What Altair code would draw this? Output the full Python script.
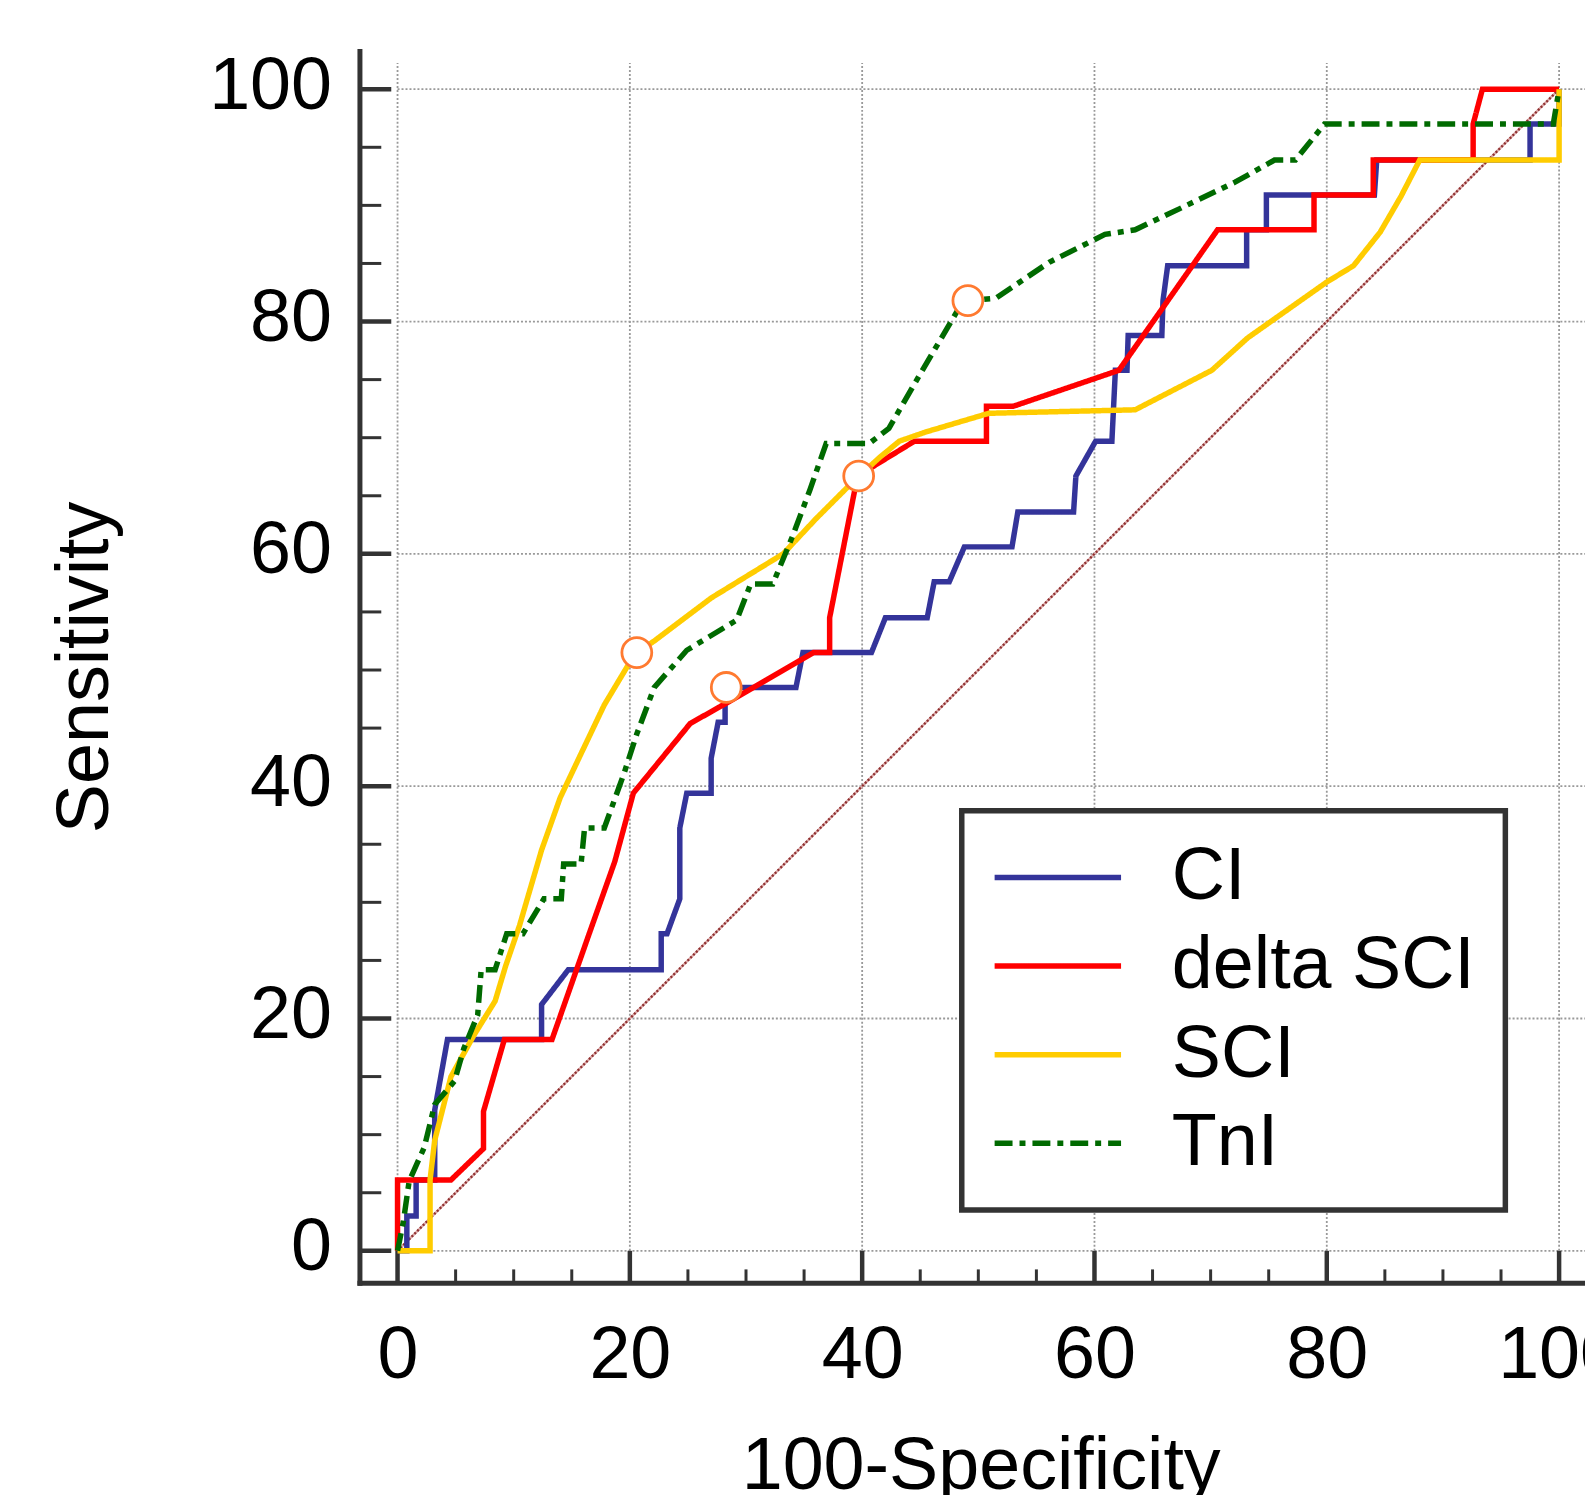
import altair as alt
import pandas as pd

FONT = "Liberation Sans"

# ---------------- data ----------------
series_names = ["CI", "delta SCI", "SCI", "TnI"]
series_colors = ["#34349a", "#ff0000", "#ffcc00", "#006a00"]
series_dashes = [[1, 0], [1, 0], [1, 0], [18, 7, 6, 7]]

ci_x = [0, 0.8, 0.8, 1.6, 1.6, 3.2, 3.2, 4.3, 12.4, 12.4, 14.7, 22.7, 22.7, 23.2, 24.3, 24.3,
        24.9, 27.0, 27.0, 27.6, 28.2, 28.2, 34.3, 34.9, 40.8, 42.0, 45.6, 46.2, 47.5, 48.8, 52.9, 53.4,
        58.2, 58.4, 60.1, 61.5, 61.8, 62.8, 62.9, 65.8, 65.9, 66.3, 73.1, 73.1, 74.8, 74.8, 84.1, 84.3,
        97.5, 97.5, 100, 100]
ci_y = [0, 0, 3.0, 3.0, 6.1, 6.1, 12.1, 18.2, 18.2, 21.2, 24.2, 24.2, 27.3, 27.3, 30.3, 36.4,
        39.4, 39.4, 42.4, 45.5, 45.5, 48.5, 48.5, 51.5, 51.5, 54.5, 54.5, 57.6, 57.6, 60.6, 60.6, 63.6,
        63.6, 66.7, 69.7, 69.7, 75.8, 75.8, 78.8, 78.8, 81.8, 84.8, 84.8, 87.9, 87.9, 90.9, 90.9, 93.9,
        93.9, 97.0, 97.0, 100]

dsci_x = [0, 0, 4.6, 7.4, 7.4, 9.2, 13.3, 16.5, 18.7, 20.3, 25.2, 28.4, 35.8, 37.2, 37.2, 39.6,
          44.5, 50.7, 50.7, 53.0, 62.1, 70.6, 78.9, 78.9, 84.0, 84.0, 92.6, 92.6, 93.4, 100]
dsci_y = [0, 6.1, 6.1, 8.8, 12.0, 18.2, 18.2, 27.3, 33.5, 39.4, 45.4, 47.2, 51.5, 51.5, 54.5, 66.7,
          69.7, 69.7, 72.7, 72.7, 75.8, 87.9, 87.9, 90.9, 90.9, 93.9, 93.9, 97.0, 100, 100]

sci_x = [0, 2.8, 2.8, 3.2, 4.6, 6.6, 8.4, 9.3, 10.5, 12.4, 14.0, 15.8, 17.8, 19.9, 20.6, 22.1,
         27.0, 33.2, 36.0, 39.2, 41.5, 43.2, 45.5, 50.9, 63.5, 70.1, 73.2, 76.6, 80.0, 82.3, 84.6, 86.4,
         88.0, 100, 100]
sci_y = [0, 0, 6.1, 9.5, 15.0, 18.6, 21.5, 24.5, 28.0, 34.5, 39.0, 42.8, 47.0, 50.5, 51.5, 52.5,
         56.2, 60.0, 63.0, 66.2, 68.3, 69.7, 70.5, 72.1, 72.4, 75.8, 78.6, 81.0, 83.4, 84.8, 87.7, 90.8,
         93.9, 93.9, 100]

tni_x = [0, 0.5, 1.0, 2.3, 3.2, 4.9, 5.7, 6.9, 7.2, 8.4, 9.4, 10.8, 12.6, 14.1, 14.3, 15.8,
         16.1, 17.8, 19.5, 20.6, 22.1, 24.9, 29.2, 30.4, 32.3, 34.0, 35.5, 36.9, 40.6, 42.3, 44.6, 48.3,
         49.1, 51.5, 56.1, 60.9, 63.5, 67.3, 72.1, 75.5, 77.3, 79.8, 99.5, 100]
tni_y = [0, 2.5, 6.0, 8.9, 12.6, 14.6, 17.4, 20.3, 24.2, 24.2, 27.3, 27.3, 30.3, 30.3, 33.3, 33.3,
         36.4, 36.4, 41.1, 44.5, 48.5, 51.7, 54.3, 57.4, 57.4, 61.5, 65.5, 69.5, 69.5, 70.8, 74.8, 81.1,
         81.8, 82.0, 85.1, 87.5, 87.9, 89.7, 92.0, 93.9, 93.9, 97.0, 97.0, 100]

opt_x = [28.3, 39.7, 20.6, 49.1]
opt_y = [48.5, 66.7, 51.5, 81.8]

ref_x = [0, 100]
ref_y = [0, 100]

major_ticks = [0, 20, 40, 60, 80, 100]
minor_ticks = [5, 10, 15, 25, 30, 35, 45, 50, 55, 65, 70, 75, 85, 90, 95]

# ---------------- geometry / style ----------------
W, H = 1231, 1237
XMIN, XMAX = -3.28, 102.23
YMIN, YMAX = -2.74, 103.28
GRID_TOP = 102.25
LW = 5.5

rows = []
for name, xs_, ys_ in zip(series_names, [ci_x, dsci_x, sci_x, tni_x], [ci_y, dsci_y, sci_y, tni_y]):
    for i, (a, b) in enumerate(zip(xs_, ys_)):
        rows.append({"series": name, "fpr": a, "tpr": b, "idx": i})
curves = pd.DataFrame(rows)

opt_df = pd.DataFrame({"series": series_names, "fpr": opt_x, "tpr": opt_y})
ref_df = pd.DataFrame({"fpr": ref_x, "tpr": ref_y})

xs = alt.Scale(domain=[XMIN, XMAX], nice=False, zero=False)
ys = alt.Scale(domain=[YMIN, YMAX], nice=False, zero=False)

AX = "#333333"

x_axis = alt.Axis(values=major_ticks, title="100-Specificity", grid=False, ticks=False, tickSize=0,
                  domainColor=AX, domainWidth=5, domainCap="square",
                  labelFont=FONT, labelFontSize=74, labelColor="black", labelPadding=37,
                  labelOverlap=False, labelFlush=False,
                  titleFont=FONT, titleFontSize=74, titleFontWeight="normal", titleColor="black",
                  titleX=624, titleY=207, titleBaseline="alphabetic", titleAlign="center")
y_axis = alt.Axis(values=major_ticks, title="Sensitivity", grid=False, ticks=False, tickSize=0,
                  domainColor=AX, domainWidth=5, domainCap="square",
                  labelFont=FONT, labelFontSize=74, labelColor="black", labelPadding=28,
                  labelOffset=-3, labelOverlap=False, labelFlush=False,
                  titleFont=FONT, titleFontSize=74, titleFontWeight="normal", titleColor="black",
                  titleX=-253, titleY=H / 2, titleBaseline="alphabetic", titleAlign="center")


def X(field):
    return alt.X(field, scale=xs, axis=x_axis)


def Y(field):
    return alt.Y(field, scale=ys, axis=y_axis)


# gridlines
GRID = dict(color="#999999", strokeWidth=1.8, strokeDash=[2, 2])
grid_v = alt.Chart(pd.DataFrame({"v": major_ticks, "lo": 0, "hi": GRID_TOP})).mark_rule(**GRID).encode(
    x=X("v:Q"), y=Y("lo:Q"), y2="hi:Q")
grid_h = alt.Chart(pd.DataFrame({"v": major_ticks, "lo": 0, "hi": XMAX})).mark_rule(**GRID).encode(
    y=Y("v:Q"), x=X("lo:Q"), x2="hi:Q")

# inward ticks
xt_major = alt.Chart(pd.DataFrame({"v": major_ticks, "lo": YMIN, "hi": 0})).mark_rule(
    color=AX, strokeWidth=4.5).encode(x=X("v:Q"), y=Y("lo:Q"), y2="hi:Q")
xt_minor = alt.Chart(pd.DataFrame({"v": minor_ticks, "lo": YMIN, "hi": -1.6})).mark_rule(
    color=AX, strokeWidth=3).encode(x=X("v:Q"), y=Y("lo:Q"), y2="hi:Q")
yt_major = alt.Chart(pd.DataFrame({"v": major_ticks, "lo": XMIN, "hi": -0.54})).mark_rule(
    color=AX, strokeWidth=4.5).encode(y=Y("v:Q"), x=X("lo:Q"), x2="hi:Q")
yt_minor = alt.Chart(pd.DataFrame({"v": minor_ticks, "lo": XMIN, "hi": -1.4})).mark_rule(
    color=AX, strokeWidth=3).encode(y=Y("v:Q"), x=X("lo:Q"), x2="hi:Q")

# diagonal reference (pink underlay + dark red dots)
diag_under = alt.Chart(ref_df).mark_line(color="#dcaaaa", strokeWidth=2.4).encode(
    x=X("fpr:Q"), y=Y("tpr:Q"))
diag = alt.Chart(ref_df).mark_line(color="#8e3030", strokeWidth=2.4, strokeDash=[2, 2]).encode(
    x=X("fpr:Q"), y=Y("tpr:Q"))

color_scale = alt.Scale(domain=series_names, range=series_colors)
dash_scale = alt.Scale(domain=series_names, range=series_dashes)


def make_legend():
    return alt.Legend(title=None, orient="none", legendX=605, legendY=763,
                      symbolType="stroke", symbolSize=16129, symbolStrokeWidth=LW,
                      labelFont=FONT, labelFontSize=74, labelColor="black", labelOffset=48,
                      labelLimit=0, rowPadding=15, padding=30, clipHeight=74,
                      strokeColor=AX, fillColor="white")


def series_layer(name):
    return alt.Chart(curves).transform_filter(alt.datum.series == name).mark_line(strokeWidth=LW).encode(
        x=X("fpr:Q"),
        y=Y("tpr:Q"),
        order="idx:Q",
        color=alt.Color("series:N", scale=color_scale, legend=make_legend()),
        strokeDash=alt.StrokeDash("series:N", scale=dash_scale, legend=make_legend()),
    )


lines = [series_layer(n) for n in series_names]

points = alt.Chart(opt_df).mark_point(shape="circle", filled=True, fill="white", stroke="#ff7a30",
                                      strokeWidth=2.8, size=900, opacity=1).encode(
    x=X("fpr:Q"), y=Y("tpr:Q"))

chart = alt.layer(grid_v, grid_h, diag_under, diag, xt_major, xt_minor, yt_major, yt_minor,
                  *lines, points).properties(
    width=W, height=H,
    autosize=alt.AutoSizeParams(type="none"),
    padding={"left": 353, "top": 40, "right": 0, "bottom": 210},
    background="white",
).configure_view(strokeWidth=0).configure_legend(strokeWidth=5.5)

chart.save("out.html", embed_options={"renderer": "svg", "actions": False})
